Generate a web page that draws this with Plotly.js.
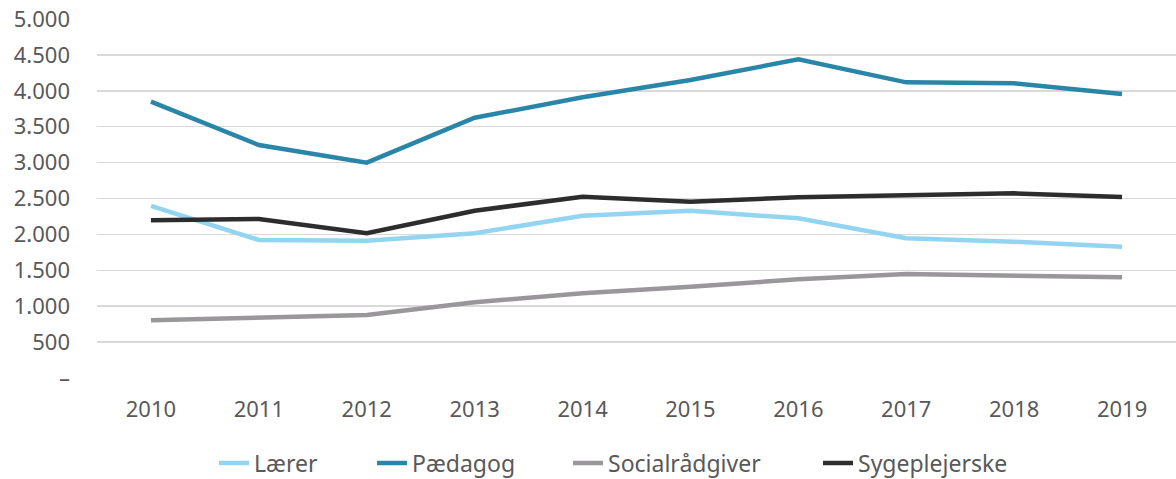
<!DOCTYPE html>
<html>
<head>
<meta charset="utf-8">
<script src="https://cdn.plot.ly/plotly-3.0.1.min.js"></script>
<style>html,body{margin:0;padding:0;background:#fff;}#chart{width:1176px;height:479px;}</style>
</head>
<body>
<div id="chart"></div>
<script>
const years = ['2010','2011','2012','2013','2014','2015','2016','2017','2018','2019'];
const laerer = [2396, 1922, 1912, 2015, 2261, 2330, 2224, 1946, 1898, 1829];
const paedagog = [3848, 3245, 2999, 3625, 3909, 4150, 4438, 4118, 4104, 3955];
const socialraadgiver = [803, 840, 877, 1054, 1180, 1272, 1374, 1448, 1425, 1402];
const sygeplejerske = [2196, 2214, 2015, 2330, 2525, 2455, 2516, 2544, 2572, 2521];
const yTickVals = [0, 500, 1000, 1500, 2000, 2500, 3000, 3500, 4000, 4500, 5000];
const yTickText = ['–', '500', '1.000', '1.500', '2.000', '2.500', '3.000', '3.500', '4.000', '4.500', '5.000'];

const font = 'Noto Sans, Open Sans, sans-serif';
function tr(name, y, color, lg) {
  return {x: years, y: y, name: name, type: 'scatter', mode: 'lines', legend: lg,
    line: {color: color, width: 4.5, shape: 'linear'}, hoverinfo: 'skip'};
}
const data = [
  tr('Lærer', laerer, '#93d5f0', 'legend'),
  tr('Pædagog', paedagog, '#2a86a8', 'legend2'),
  tr('Socialrådgiver', socialraadgiver, '#999799', 'legend3'),
  tr('Sygeplejerske', sygeplejerske, '#2d2d2d', 'legend4')
];
function lg(xpx) {
  return {orientation: 'h', x: xpx / 1176, xref: 'container', xanchor: 'left', y: 16 / 479, yref: 'container', yanchor: 'middle',
    font: {family: font, size: 23, color: '#595959'}, itemwidth: 30, bgcolor: 'rgba(0,0,0,0)', borderwidth: 0};
}
const layout = {
  width: 1176, height: 479,
  margin: {l: 97, r: 0, t: 19, b: 101},
  paper_bgcolor: '#ffffff', plot_bgcolor: '#ffffff',
  font: {family: font, size: 22, color: '#595959'},
  showlegend: true,
  legend: lg(214), legend2: lg(372), legend3: lg(568), legend4: lg(818),
  xaxis: {type: 'category', range: [-0.5, 9.5], showgrid: false, zeroline: false, showline: false,
    ticks: '', ticklabelstandoff: 16, tickfont: {family: font, size: 22, color: '#595959'}, fixedrange: true},
  yaxis: {range: [0, 5000], tickvals: yTickVals, ticktext: yTickText, showgrid: true, gridcolor: '#d9d9d9', gridwidth: 1.5,
    zeroline: false, showline: false, ticks: '', ticklabelstandoff: 26, tickfont: {family: font, size: 22, color: '#595959'}, fixedrange: true}
};
Plotly.newPlot('chart', data, layout, {displayModeBar: false, staticPlot: true});
</script>
</body>
</html>
